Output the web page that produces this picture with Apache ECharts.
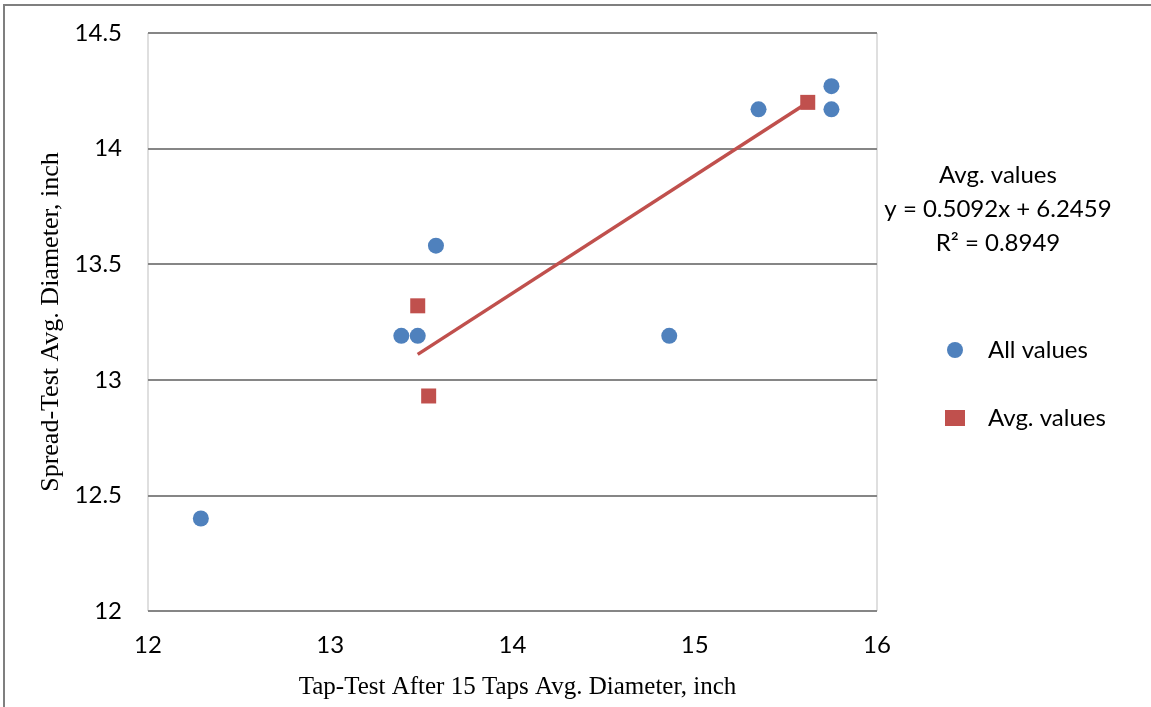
<!DOCTYPE html>
<html>
<head>
<meta charset="utf-8">
<script src="https://cdn.jsdelivr.net/npm/echarts@6/dist/echarts.min.js"></script>
<style>
html,body{margin:0;padding:0;background:#fff;}
#c{width:1151px;height:707px;}
</style>
</head>
<body>
<div id="c"></div>
<script>
// Data
const allX = [12.29, 13.39, 13.48, 13.58, 14.86, 15.35, 15.75, 15.75];
const allY = [12.40, 13.19, 13.19, 13.58, 13.19, 14.17, 14.27, 14.17];
const avgX = [13.48, 13.54, 15.62];
const avgY = [13.32, 12.93, 14.20];
const trendSlope = 0.5092;
const trendIntercept = 6.2459;
const trendR2 = 0.8949;
const xTitle = 'Tap-Test After 15 Taps Avg. Diameter, inch';
const yTitle = 'Spread-Test Avg. Diameter, inch';
const seriesNames = ['All values', 'Avg. values'];

const allData = allX.map((x, i) => [x, allY[i]]);
const avgData = avgX.map((x, i) => [x, avgY[i]]);
const tx0 = Math.min(...avgX), tx1 = Math.max(...avgX);
const trendData = [[tx0, trendSlope * tx0 + trendIntercept], [tx1, trendSlope * tx1 + trendIntercept]];

const SANS = 'Lato, "Open Sans", sans-serif';
const SERIF = '"Liberation Serif", "Times New Roman", serif';

const chart = echarts.init(document.getElementById('c'), null, {renderer: 'canvas'});
chart.setOption({
  animation: false,
  backgroundColor: '#fff',
  grid: {left: 148, top: 33, right: 274, bottom: 96, show: true, borderColor: '#bfbfbf', borderWidth: 1},
  xAxis: {
    type: 'value', min: 12, max: 16, interval: 1,
    axisLine: {show: false}, axisTick: {show: false}, splitLine: {show: false},
    axisLabel: {color: '#000', fontFamily: SANS, fontSize: 24, margin: 22},
    name: xTitle, nameLocation: 'middle', nameGap: 64,
    nameTextStyle: {color: '#000', fontFamily: SERIF, fontSize: 25, padding: [0, 0, 0, 10]}
  },
  yAxis: {
    type: 'value', min: 12, max: 14.5, interval: 0.5,
    axisLine: {show: false}, axisTick: {show: false},
    splitLine: {show: true, lineStyle: {color: '#868686', width: 2}},
    axisLabel: {color: '#000', fontFamily: SANS, fontSize: 24, margin: 26},
    name: yTitle, nameLocation: 'middle', nameGap: 76, nameRotate: 90,
    nameTextStyle: {color: '#000', fontFamily: SERIF, fontSize: 26, padding: [0, 0, 0, 0]}
  },
  legend: {
    orient: 'vertical', left: 940, top: 333, itemGap: 44,
    itemWidth: 20, itemHeight: 16,
    textStyle: {color: '#000', fontFamily: SANS, fontSize: 24, padding: [0, 0, 0, 18]},
    data: [{name: seriesNames[0], icon: 'circle'}, {name: seriesNames[1], icon: 'rect'}]
  },
  graphic: [
    {type: 'rect', shape: {x: 4, y: 5, width: 1160, height: 720}, style: {fill: 'none', stroke: '#7f7f7f', lineWidth: 2}, silent: true},
    {type: 'text', x: 998, y: 175, style: {text: 'Avg. values', fill: '#000', font: '24px ' + SANS, textAlign: 'center', textVerticalAlign: 'middle'}},
    {type: 'text', x: 998, y: 209, style: {text: 'y = ' + trendSlope + 'x + ' + trendIntercept, fill: '#000', font: '24px ' + SANS, textAlign: 'center', textVerticalAlign: 'middle'}},
    {type: 'text', x: 998, y: 243, style: {text: 'R² = ' + trendR2, fill: '#000', font: '24px ' + SANS, textAlign: 'center', textVerticalAlign: 'middle'}}
  ],
  series: [
    {
      name: seriesNames[1] + ' trend', type: 'line', data: trendData, showSymbol: false, symbol: 'none',
      lineStyle: {color: '#c0504d', width: 3.5}, z: 1, silent: true
    },
    {
      name: seriesNames[0], type: 'scatter', data: allData, symbol: 'circle', symbolSize: 16,
      itemStyle: {color: '#4f81bd', opacity: 1}, z: 3
    },
    {
      name: seriesNames[1], type: 'scatter', data: avgData, symbol: 'rect', symbolSize: 15,
      itemStyle: {color: '#c0504d', opacity: 1}, z: 3
    }
  ]
});
</script>
</body>
</html>
